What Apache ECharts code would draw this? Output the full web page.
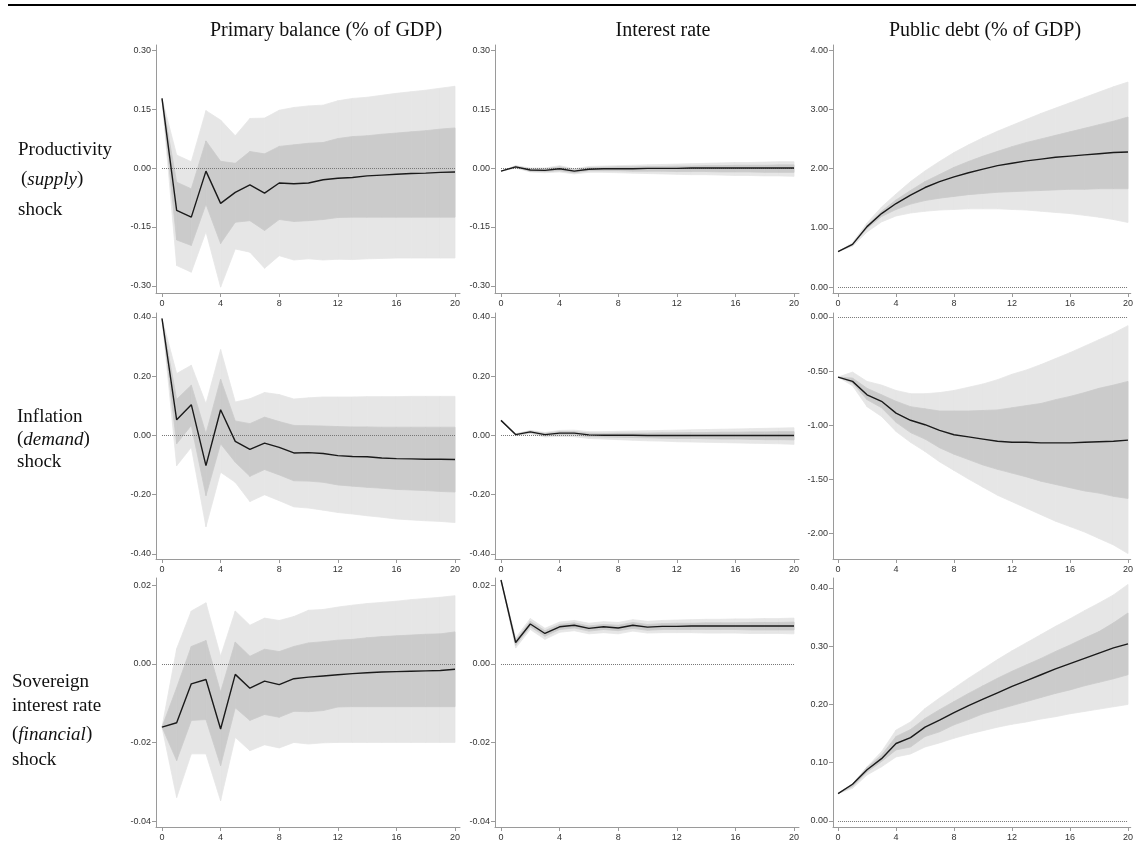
<!DOCTYPE html>
<html>
<head>
<meta charset="utf-8">
<title>Impulse responses</title>
<script src="https://cdn.jsdelivr.net/npm/echarts@6/dist/echarts.min.js"></script>
<style>
  html, body { margin: 0; padding: 0; background: #fff; }
  #chart { width: 1136px; height: 843px; }
</style>
</head>
<body>
<div id="chart"></div>
<script>
// horizons (quarters)
var periods = [0, 1, 2, 3, 4, 5, 6, 7, 8, 9, 10, 11, 12, 13, 14, 15, 16, 17, 18, 19, 20];
var xTicks = [0, 4, 8, 12, 16, 20];

var colTitles = ['Primary balance (% of GDP)', 'Interest rate', 'Public debt (% of GDP)'];

// ---- productivity (supply) shock ----
var pbSupplyMed  = [0.177, -0.108, -0.125, -0.008, -0.090, -0.062, -0.043, -0.064, -0.038, -0.040, -0.038, -0.030, -0.026, -0.024, -0.020, -0.018, -0.016, -0.014, -0.013, -0.011, -0.010];
var pbSupplyHi90 = [0.177, 0.033, 0.016, 0.146, 0.122, 0.082, 0.126, 0.127, 0.147, 0.154, 0.158, 0.160, 0.171, 0.177, 0.180, 0.185, 0.190, 0.194, 0.198, 0.203, 0.208];
var pbSupplyLo90 = [0.177, -0.248, -0.265, -0.162, -0.303, -0.206, -0.214, -0.255, -0.223, -0.234, -0.231, -0.234, -0.232, -0.233, -0.231, -0.230, -0.229, -0.229, -0.229, -0.229, -0.229];
var pbSupplyHi68 = [0.177, -0.036, -0.053, 0.069, 0.017, 0.012, 0.042, 0.036, 0.055, 0.059, 0.063, 0.065, 0.075, 0.080, 0.082, 0.086, 0.089, 0.092, 0.095, 0.099, 0.102];
var pbSupplyLo68 = [0.177, -0.183, -0.197, -0.092, -0.192, -0.138, -0.134, -0.159, -0.131, -0.136, -0.134, -0.131, -0.126, -0.125, -0.125, -0.125, -0.125, -0.125, -0.125, -0.125, -0.125];

var irSupplyMed  = [-0.008, 0.003, -0.005, -0.006, -0.002, -0.008, -0.003, -0.002, -0.002, -0.002, -0.001, -0.001, -0.001, 0, 0, 0, 0, 0, 0, 0, 0];
var irSupplyHi90 = [-0.008, 0.006, 0.000, 0.000, 0.006, -0.002, 0.004, 0.005, 0.006, 0.007, 0.008, 0.009, 0.010, 0.011, 0.012, 0.013, 0.014, 0.014, 0.015, 0.016, 0.016];
var irSupplyLo90 = [-0.008, 0.000, -0.010, -0.012, -0.010, -0.015, -0.011, -0.011, -0.012, -0.013, -0.014, -0.015, -0.016, -0.017, -0.017, -0.018, -0.019, -0.019, -0.020, -0.020, -0.021];
var irSupplyHi68 = [-0.008, 0.005, -0.002, -0.002, 0.003, -0.004, 0.001, 0.002, 0.003, 0.003, 0.004, 0.004, 0.005, 0.005, 0.006, 0.006, 0.007, 0.007, 0.007, 0.008, 0.008];
var irSupplyLo68 = [-0.008, 0.001, -0.008, -0.009, -0.007, -0.012, -0.007, -0.007, -0.007, -0.008, -0.008, -0.008, -0.009, -0.009, -0.009, -0.010, -0.010, -0.010, -0.011, -0.011, -0.011];

var pdSupplyMed  = [0.60, 0.72, 1.02, 1.24, 1.41, 1.55, 1.68, 1.78, 1.86, 1.93, 1.99, 2.05, 2.09, 2.13, 2.16, 2.19, 2.21, 2.23, 2.25, 2.27, 2.28];
var pdSupplyHi90 = [0.60, 0.75, 1.08, 1.35, 1.57, 1.78, 1.96, 2.12, 2.27, 2.40, 2.52, 2.63, 2.73, 2.83, 2.93, 3.02, 3.11, 3.20, 3.29, 3.38, 3.46];
var pdSupplyLo90 = [0.60, 0.69, 0.93, 1.10, 1.20, 1.25, 1.28, 1.30, 1.31, 1.32, 1.32, 1.32, 1.31, 1.30, 1.28, 1.26, 1.24, 1.21, 1.18, 1.14, 1.09];
var pdSupplyHi68 = [0.60, 0.73, 1.04, 1.28, 1.47, 1.63, 1.78, 1.90, 2.02, 2.12, 2.21, 2.29, 2.37, 2.44, 2.50, 2.56, 2.62, 2.68, 2.74, 2.80, 2.87];
var pdSupplyLo68 = [0.60, 0.71, 0.99, 1.19, 1.31, 1.40, 1.46, 1.50, 1.53, 1.56, 1.58, 1.60, 1.61, 1.62, 1.63, 1.64, 1.65, 1.65, 1.66, 1.66, 1.66];

// ---- inflation (demand) shock ----
var pbDemandMed  = [0.395, 0.053, 0.104, -0.102, 0.087, -0.020, -0.047, -0.026, -0.040, -0.059, -0.058, -0.061, -0.068, -0.071, -0.072, -0.076, -0.078, -0.079, -0.080, -0.080, -0.081];
var pbDemandHi90 = [0.395, 0.209, 0.237, 0.107, 0.290, 0.113, 0.124, 0.145, 0.138, 0.123, 0.127, 0.130, 0.130, 0.130, 0.131, 0.131, 0.131, 0.132, 0.132, 0.132, 0.132];
var pbDemandLo90 = [0.395, -0.102, -0.040, -0.308, -0.124, -0.158, -0.223, -0.200, -0.220, -0.241, -0.245, -0.252, -0.260, -0.265, -0.271, -0.276, -0.282, -0.285, -0.288, -0.290, -0.294];
var pbDemandHi68 = [0.395, 0.122, 0.170, 0.006, 0.190, 0.049, 0.040, 0.062, 0.047, 0.034, 0.033, 0.032, 0.030, 0.029, 0.029, 0.028, 0.028, 0.028, 0.028, 0.028, 0.028];
var pbDemandLo68 = [0.395, -0.028, 0.034, -0.203, -0.028, -0.090, -0.138, -0.115, -0.133, -0.153, -0.154, -0.158, -0.167, -0.171, -0.175, -0.178, -0.182, -0.184, -0.186, -0.189, -0.191];

var irDemandMed  = [0.051, 0.003, 0.012, 0.003, 0.008, 0.008, 0.002, 0.001, 0.001, 0.001, 0.000, 0, 0, 0, 0, 0, 0, 0, 0, 0, 0];
var irDemandHi90 = [0.051, 0.006, 0.017, 0.010, 0.017, 0.018, 0.013, 0.013, 0.014, 0.015, 0.016, 0.017, 0.018, 0.019, 0.020, 0.021, 0.022, 0.023, 0.024, 0.025, 0.026];
var irDemandLo90 = [0.051, 0.000, 0.006, -0.005, -0.003, -0.004, -0.010, -0.012, -0.014, -0.016, -0.018, -0.019, -0.021, -0.022, -0.023, -0.024, -0.025, -0.026, -0.027, -0.028, -0.030];
var irDemandHi68 = [0.051, 0.005, 0.015, 0.007, 0.013, 0.013, 0.008, 0.007, 0.008, 0.008, 0.008, 0.009, 0.009, 0.010, 0.010, 0.011, 0.011, 0.012, 0.012, 0.013, 0.013];
var irDemandLo68 = [0.051, 0.001, 0.009, -0.001, 0.002, 0.002, -0.004, -0.005, -0.006, -0.007, -0.008, -0.009, -0.010, -0.010, -0.011, -0.012, -0.012, -0.013, -0.014, -0.014, -0.015];

var pdDemandMed  = [-0.556, -0.596, -0.72, -0.78, -0.89, -0.956, -0.997, -1.05, -1.09, -1.11, -1.13, -1.15, -1.16, -1.16, -1.165, -1.165, -1.165, -1.16, -1.155, -1.15, -1.14];
var pdDemandHi90 = [-0.556, -0.51, -0.596, -0.63, -0.68, -0.71, -0.71, -0.70, -0.68, -0.65, -0.62, -0.58, -0.53, -0.49, -0.44, -0.385, -0.33, -0.27, -0.21, -0.15, -0.08];
var pdDemandLo90 = [-0.556, -0.636, -0.83, -0.92, -1.06, -1.16, -1.245, -1.34, -1.42, -1.50, -1.575, -1.65, -1.71, -1.77, -1.83, -1.89, -1.94, -1.99, -2.05, -2.11, -2.19];
var pdDemandHi68 = [-0.556, -0.565, -0.66, -0.72, -0.78, -0.83, -0.85, -0.87, -0.87, -0.87, -0.865, -0.86, -0.84, -0.82, -0.80, -0.765, -0.735, -0.70, -0.66, -0.63, -0.596];
var pdDemandLo68 = [-0.556, -0.61, -0.765, -0.84, -0.975, -1.07, -1.13, -1.21, -1.27, -1.32, -1.37, -1.41, -1.445, -1.48, -1.52, -1.55, -1.58, -1.61, -1.63, -1.66, -1.68];

// ---- sovereign interest rate (financial) shock ----
var pbFinMed  = [-0.0161, -0.0150, -0.0051, -0.0040, -0.0166, -0.0027, -0.0062, -0.0044, -0.0053, -0.0038, -0.0034, -0.0031, -0.0028, -0.0025, -0.0023, -0.0021, -0.0020, -0.0019, -0.0018, -0.0017, -0.0014];
var pbFinHi90 = [-0.0161, 0.0038, 0.0134, 0.0155, 0.0019, 0.0134, 0.0098, 0.0116, 0.0110, 0.0120, 0.0136, 0.0138, 0.0144, 0.0149, 0.0153, 0.0156, 0.0159, 0.0163, 0.0166, 0.0169, 0.0173];
var pbFinLo90 = [-0.0161, -0.0340, -0.0229, -0.0229, -0.0348, -0.0187, -0.0221, -0.0206, -0.0214, -0.0200, -0.0204, -0.0201, -0.0200, -0.0200, -0.0200, -0.0200, -0.0200, -0.0200, -0.0200, -0.0200, -0.0200];
var pbFinHi68 = [-0.0161, -0.0061, 0.0044, 0.0059, -0.0072, 0.0055, 0.0019, 0.0037, 0.0031, 0.0044, 0.0053, 0.0056, 0.0060, 0.0062, 0.0066, 0.0069, 0.0071, 0.0073, 0.0075, 0.0076, 0.0081];
var pbFinLo68 = [-0.0161, -0.0246, -0.0144, -0.0142, -0.0259, -0.0112, -0.0144, -0.0129, -0.0136, -0.0121, -0.0122, -0.0119, -0.0110, -0.0109, -0.0109, -0.0109, -0.0109, -0.0109, -0.0109, -0.0109, -0.0109];

var irFinMed  = [0.0213, 0.0054, 0.0101, 0.0077, 0.0094, 0.0098, 0.0090, 0.0094, 0.0091, 0.0098, 0.0093, 0.0095, 0.0095, 0.0096, 0.0096, 0.0096, 0.0096, 0.0096, 0.0096, 0.0096, 0.0096];
var irFinHi90 = [0.0213, 0.0066, 0.0115, 0.0090, 0.0106, 0.0110, 0.0103, 0.0107, 0.0105, 0.0112, 0.0108, 0.0110, 0.0111, 0.0112, 0.0113, 0.0113, 0.0114, 0.0114, 0.0115, 0.0115, 0.0116];
var irFinLo90 = [0.0213, 0.0040, 0.0087, 0.0062, 0.0080, 0.0084, 0.0076, 0.0079, 0.0076, 0.0083, 0.0078, 0.0079, 0.0079, 0.0079, 0.0078, 0.0078, 0.0078, 0.0077, 0.0077, 0.0077, 0.0076];
var irFinHi68 = [0.0213, 0.0060, 0.0108, 0.0084, 0.0100, 0.0104, 0.0096, 0.0100, 0.0098, 0.0105, 0.0100, 0.0102, 0.0103, 0.0103, 0.0104, 0.0104, 0.0104, 0.0105, 0.0105, 0.0105, 0.0106];
var irFinLo68 = [0.0213, 0.0047, 0.0094, 0.0070, 0.0087, 0.0091, 0.0083, 0.0087, 0.0084, 0.0090, 0.0085, 0.0087, 0.0087, 0.0087, 0.0087, 0.0087, 0.0087, 0.0086, 0.0086, 0.0086, 0.0086];

var pdFinMed  = [0.047, 0.063, 0.088, 0.107, 0.133, 0.143, 0.161, 0.173, 0.186, 0.198, 0.209, 0.220, 0.231, 0.241, 0.251, 0.261, 0.270, 0.279, 0.288, 0.297, 0.304];
var pdFinHi90 = [0.047, 0.064, 0.093, 0.119, 0.156, 0.170, 0.193, 0.211, 0.228, 0.245, 0.261, 0.277, 0.292, 0.306, 0.320, 0.334, 0.347, 0.361, 0.374, 0.388, 0.406];
var pdFinLo90 = [0.047, 0.056, 0.079, 0.093, 0.110, 0.115, 0.127, 0.134, 0.142, 0.149, 0.155, 0.161, 0.166, 0.170, 0.175, 0.179, 0.184, 0.188, 0.192, 0.196, 0.200];
var pdFinHi68 = [0.047, 0.064, 0.092, 0.113, 0.145, 0.157, 0.176, 0.191, 0.205, 0.219, 0.232, 0.245, 0.257, 0.268, 0.279, 0.291, 0.302, 0.314, 0.325, 0.340, 0.357];
var pdFinLo68 = [0.047, 0.059, 0.084, 0.102, 0.122, 0.127, 0.145, 0.153, 0.165, 0.174, 0.184, 0.191, 0.198, 0.205, 0.212, 0.219, 0.225, 0.232, 0.238, 0.244, 0.251];

// y tick labels per panel
var ticksPb1 = [-0.30, -0.15, 0, 0.15, 0.30];
var ticksPd1 = [0, 1, 2, 3, 4];
var ticksPb2 = [-0.40, -0.20, 0, 0.20, 0.40];
var ticksPd2 = [-2.0, -1.5, -1.0, -0.5, 0];
var ticksPb3 = [-0.04, -0.02, 0, 0.02];
var ticksPd3 = [0, 0.10, 0.20, 0.30, 0.40];

var panels = [
  { r: 0, c: 0, med: pbSupplyMed, hi90: pbSupplyHi90, lo90: pbSupplyLo90, hi68: pbSupplyHi68, lo68: pbSupplyLo68, ticks: ticksPb1, min: -0.318, max: 0.313 },
  { r: 0, c: 1, med: irSupplyMed, hi90: irSupplyHi90, lo90: irSupplyLo90, hi68: irSupplyHi68, lo68: irSupplyLo68, ticks: ticksPb1, min: -0.318, max: 0.313 },
  { r: 0, c: 2, med: pdSupplyMed, hi90: pdSupplyHi90, lo90: pdSupplyLo90, hi68: pdSupplyHi68, lo68: pdSupplyLo68, ticks: ticksPd1, min: -0.10, max: 4.085 },
  { r: 1, c: 0, med: pbDemandMed, hi90: pbDemandHi90, lo90: pbDemandLo90, hi68: pbDemandHi68, lo68: pbDemandLo68, ticks: ticksPb2, min: -0.417, max: 0.4135 },
  { r: 1, c: 1, med: irDemandMed, hi90: irDemandHi90, lo90: irDemandLo90, hi68: irDemandHi68, lo68: irDemandLo68, ticks: ticksPb2, min: -0.417, max: 0.4135 },
  { r: 1, c: 2, med: pdDemandMed, hi90: pdDemandHi90, lo90: pdDemandLo90, hi68: pdDemandHi68, lo68: pdDemandLo68, ticks: ticksPd2, min: -2.24, max: 0.037 },
  { r: 2, c: 0, med: pbFinMed, hi90: pbFinHi90, lo90: pbFinLo90, hi68: pbFinHi68, lo68: pbFinLo68, ticks: ticksPb3, min: -0.0415, max: 0.0218 },
  { r: 2, c: 1, med: irFinMed, hi90: irFinHi90, lo90: irFinLo90, hi68: irFinHi68, lo68: irFinLo68, ticks: ticksPb3, min: -0.0415, max: 0.0218 },
  { r: 2, c: 2, med: pdFinMed, hi90: pdFinHi90, lo90: pdFinLo90, hi68: pdFinHi68, lo68: pdFinLo68, ticks: ticksPd3, min: -0.0103, max: 0.417 }
];

// layout in px
var colLeft = [156, 495, 833];
var colWidth = [304, 304, 303];
var colXMin = [-0.41, -0.41, -0.348];
var colXMax = [20.34, 20.34, 20.19];
var rowTop = [45, 313, 578];
var rowBottom = [293, 559, 827];

var axisColor = '#9a9a9a';
var lightBand = '#e6e6e6';
var darkBand = '#cbcbcb';

function pairs(arr) {
  return periods.map(function (t, i) { return [t, arr[i]]; });
}

// one item per segment: [t0, lo0, hi0, t1, lo1, hi1]
function segments(lo, hi) {
  var out = [];
  for (var i = 0; i < periods.length - 1; i++) {
    out.push([periods[i], lo[i], hi[i], periods[i + 1], lo[i + 1], hi[i + 1]]);
  }
  return out;
}

function bandSeries(k, lo, hi, color, z) {
  return {
    type: 'custom', xAxisIndex: k, yAxisIndex: k, silent: true, z: z,
    data: segments(lo, hi),
    encode: { x: [0, 3], y: [1, 2, 4, 5] },
    renderItem: function (params, api) {
      var a = api.coord([api.value(0), api.value(1)]);
      var b = api.coord([api.value(0), api.value(2)]);
      var c = api.coord([api.value(3), api.value(5)]);
      var d = api.coord([api.value(3), api.value(4)]);
      return {
        type: 'polygon',
        shape: { points: [a, b, c, d] },
        style: { fill: color, stroke: color, lineWidth: 0.8 }
      };
    }
  };
}

var grids = [], xAxes = [], yAxes = [], series = [];

panels.forEach(function (p, k) {
  grids.push({
    left: colLeft[p.c], width: colWidth[p.c],
    top: rowTop[p.r], height: rowBottom[p.r] - rowTop[p.r]
  });
  xAxes.push({
    gridIndex: k, type: 'value', min: colXMin[p.c], max: colXMax[p.c],
    axisLine: { onZero: false, lineStyle: { color: axisColor } },
    axisTick: { length: 4, customValues: xTicks, lineStyle: { color: axisColor } },
    axisLabel: { customValues: xTicks, fontSize: 9, color: '#333', margin: 6, fontFamily: 'Liberation Sans' },
    splitLine: { show: false }
  });
  yAxes.push({
    gridIndex: k, type: 'value', min: p.min, max: p.max,
    axisLine: { show: true, onZero: false, lineStyle: { color: axisColor } },
    axisTick: { show: true, length: 4, customValues: p.ticks, lineStyle: { color: axisColor } },
    axisLabel: {
      customValues: p.ticks, fontSize: 9, color: '#333', margin: 5, fontFamily: 'Liberation Sans',
      formatter: function (v) { return Number(v).toFixed(2); }
    },
    splitLine: { show: false }
  });

  series.push(bandSeries(k, p.lo90, p.hi90, lightBand, 1));
  series.push(bandSeries(k, p.lo68, p.hi68, darkBand, 2));

  series.push({
    type: 'line', xAxisIndex: k, yAxisIndex: k,
    data: pairs(p.med), symbol: 'none', silent: true,
    lineStyle: { color: '#1a1a1a', width: 1.4 },
    z: 5,
    markLine: {
      silent: true, symbol: 'none', label: { show: false },
      lineStyle: { type: 'dotted', color: '#777', width: 1 },
      data: [[{ coord: [0, 0] }, { coord: [20, 0] }]]
    }
  });
});

var titleCenters = [321, 658, 980];
var titles = colTitles.map(function (t, i) {
  return {
    text: t, left: titleCenters[i], top: 16, textAlign: 'center',
    textStyle: { fontFamily: 'Liberation Serif', fontSize: 20, fontWeight: 'normal', color: '#111' }
  };
});

var serifFont = 'Liberation Serif';
function rowText(x, y, txt) {
  return {
    type: 'text', left: x, top: y,
    style: {
      text: txt, fontFamily: serifFont, fontSize: 19, fill: '#111',
      rich: { i: { fontStyle: 'italic', fontFamily: serifFont, fontSize: 19, fill: '#111' } }
    }
  };
}

var graphics = [
  { type: 'line', shape: { x1: 8, y1: 5, x2: 1136, y2: 5 }, style: { stroke: '#000', lineWidth: 2 } },
  rowText(18, 141, 'Productivity'),
  rowText(21, 170, '({i|supply})'),
  rowText(18, 201, 'shock'),
  rowText(17, 408, 'Inflation'),
  rowText(17, 430, '({i|demand})'),
  rowText(17, 453, 'shock'),
  rowText(12, 673, 'Sovereign'),
  rowText(12, 697, 'interest rate'),
  rowText(12, 725, '({i|financial})'),
  rowText(12, 751, 'shock')
];

var chart = echarts.init(document.getElementById('chart'));
chart.setOption({
  animation: false,
  backgroundColor: '#fff',
  title: titles,
  grid: grids,
  xAxis: xAxes,
  yAxis: yAxes,
  series: series,
  graphic: graphics
});
</script>
</body>
</html>
